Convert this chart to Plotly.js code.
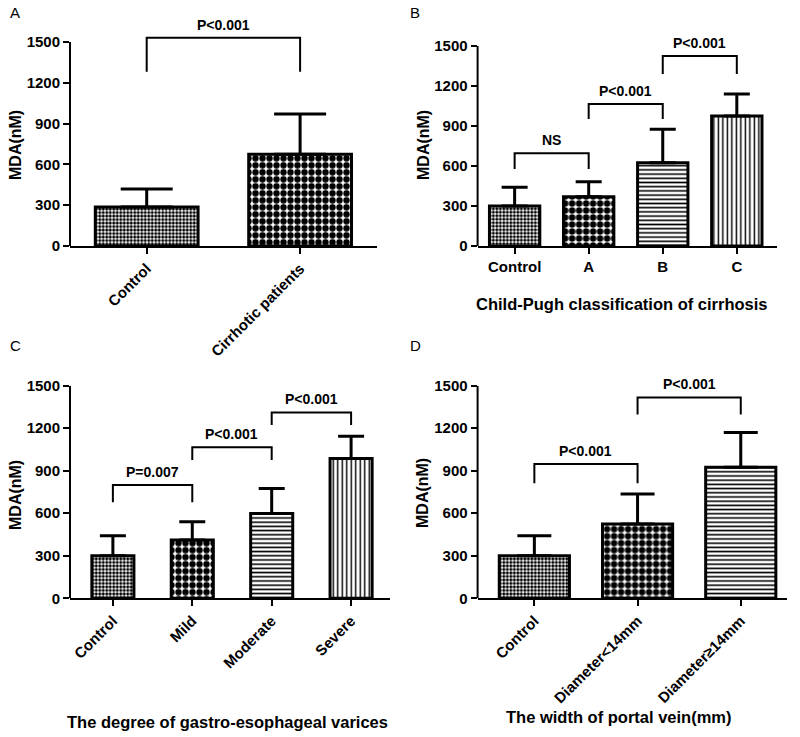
<!DOCTYPE html>
<html>
<head>
<meta charset="utf-8">
<script src="https://cdn.plot.ly/plotly-3.0.1.min.js"></script>
<style>
html,body{margin:0;padding:0;background:#fff;}
#chart{width:800px;height:737px;}
</style>
</head>
<body>
<div id="chart"></div>
<script>
// ---- Data ----
const catsA = ["Control", "Cirrhotic patients"];
const meanA = [287, 674];
const sdA = [132, 296];

const catsB = ["Control", "A", "B", "C"];
const meanB = [300, 370, 625, 975];
const sdB = [140, 112, 250, 165];

const catsC = ["Control", "Mild", "Moderate", "Severe"];
const meanC = [300, 411, 599, 987];
const sdC = [141, 129, 176, 157];

const catsD = ["Control", "Diameter<14mm", "Diameter\u226514mm"];
const meanD = [300, 524, 924];
const sdD = [141, 211, 246];

// brackets: [fromIndex, toIndex, top, legBottom, label]
const bracketsA = [[0, 1, 1532, 1282, "P<0.001"]];
const bracketsB = [[0, 1, 695, 578, "NS"], [1, 2, 1065, 952, "P<0.001"], [2, 3, 1425, 1290, "P<0.001"]];
const bracketsC = [[0, 1, 799, 677, "P=0.007"], [1, 2, 1065, 975, "P<0.001"], [2, 3, 1311, 1222, "P<0.001"]];
const bracketsD = [[0, 1, 947, 811, "P<0.001"], [1, 2, 1417, 1297, "P<0.001"]];

const yTicks = [0, 300, 600, 900, 1200, 1500];
const yAxisMax = 1500;

// ---- Styles ----
const FONT = "Liberation Sans, Arial, Helvetica, sans-serif";
const patShape = {fine: ".", coarse: ".", hline: "-", vline: "|"};
const patSize = {fine: 3.5, coarse: 7, hline: 4.2, vline: 4.5};
const patSolid = {fine: 0.6, coarse: 0.65, hline: 0.38, vline: 0.32};
function pat(kinds) {
  return {
    shape: kinds.map(k => patShape[k]),
    size: kinds.map(k => patSize[k]),
    solidity: kinds.map(k => patSolid[k]),
    fgcolor: "#000", bgcolor: "#fff", fillmode: "replace"
  };
}

const panels = [
  {cats: catsA, mean: meanA, sd: sdA, br: bracketsA, kinds: ["fine", "coarse"], xa: "x", ya: "y", bw: 0.67, ew: 26},
  {cats: catsB, mean: meanB, sd: sdB, br: bracketsB, kinds: ["fine", "coarse", "hline", "vline"], xa: "x2", ya: "y2", bw: 0.68, ew: 13},
  {cats: catsC, mean: meanC, sd: sdC, br: bracketsC, kinds: ["fine", "coarse", "hline", "vline"], xa: "x3", ya: "y3", bw: 0.53, ew: 13},
  {cats: catsD, mean: meanD, sd: sdD, br: bracketsD, kinds: ["fine", "coarse", "hline"], xa: "x4", ya: "y4", bw: 0.68, ew: 17}
];

const traces = [];
const annotations = [];
const shapes = [];
panels.forEach(p => {
  traces.push({
    type: "bar", x: p.cats, y: p.mean, xaxis: p.xa, yaxis: p.ya, width: p.bw,
    marker: {color: "#fff", line: {color: "#000", width: 3}, pattern: pat(p.kinds)},
    error_y: {type: "data", symmetric: false, array: p.sd, arrayminus: p.sd.map(() => 0),
      color: "#000", thickness: 3, width: p.ew},
    showlegend: false, hoverinfo: "skip"
  });
  p.br.forEach(b => {
    const [i, j, top, leg, label] = b;
    traces.push({
      type: "scatter", mode: "lines", xaxis: p.xa, yaxis: p.ya,
      x: [p.cats[i], p.cats[i], p.cats[j], p.cats[j]],
      y: [leg, top, top, leg],
      line: {color: "#000", width: 2}, cliponaxis: false, showlegend: false, hoverinfo: "skip"
    });
    annotations.push({
      xref: p.xa, yref: p.ya, x: (i + j) / 2, y: top, yanchor: "middle", yshift: 13,
      text: label, showarrow: false, font: {family: FONT, size: 14, color: "#000", weight: "bold"}
    });
  });
  // visible y-axis line from 0 to 1500 (axis range may extend above for brackets)
  shapes.push({type: "line", xref: p.xa + " domain", yref: p.ya, x0: 0, x1: 0, y0: 0, y1: yAxisMax,
    line: {color: "#000", width: 2}});
});

function xAxis(domain, anchor, cats, angle, range) {
  return {
    domain: domain, anchor: anchor, type: "category", categoryorder: "array", categoryarray: cats,
    range: range, showline: true, linecolor: "#000", linewidth: 2,
    ticks: "outside", ticklen: 6, tickwidth: 2, tickcolor: "#000", tickangle: angle,
    showgrid: false, zeroline: false, fixedrange: true,
    tickfont: {family: FONT, size: 15, color: "#000", weight: "bold"}
  };
}
function yAxis(domain, anchor, top) {
  return {
    domain: domain, anchor: anchor, range: [0, top], tickvals: yTicks, ticktext: yTicks.map(String),
    showline: false, ticks: "outside", ticklen: 6, tickwidth: 2,
    tickcolor: "#000", showgrid: false, zeroline: false, fixedrange: true,
    tickfont: {family: FONT, size: 15, color: "#000", weight: "bold"}
  };
}

const yTitleFont = {family: FONT, size: 16, color: "#000", weight: "bold"};
const xTitleFont = {family: FONT, size: 16.5, color: "#000", weight: "bold"};
const panelFont = {family: FONT, size: 15, color: "#000"};
function paperAnn(x, y, text, font, extra) {
  return Object.assign({xref: "paper", yref: "paper", x: x, y: y, xanchor: "center", yanchor: "middle",
    text: text, showarrow: false, font: font}, extra || {});
}
// y-axis titles
annotations.push(paperAnn(15 / 800, 1 - 145 / 737, "MDA(nM)", yTitleFont, {textangle: -90}));
annotations.push(paperAnn(423 / 800, 1 - 145 / 737, "MDA(nM)", yTitleFont, {textangle: -90}));
annotations.push(paperAnn(15 / 800, 1 - 495 / 737, "MDA(nM)", yTitleFont, {textangle: -90}));
annotations.push(paperAnn(423 / 800, 1 - 493 / 737, "MDA(nM)", yTitleFont, {textangle: -90}));
// x-axis titles
annotations.push(paperAnn(622 / 800, 1 - 304 / 737, "Child-Pugh classification of cirrhosis", xTitleFont));
annotations.push(paperAnn(228 / 800, 1 - 722 / 737, "The degree of gastro-esophageal varices", xTitleFont));
annotations.push(paperAnn(619 / 800, 1 - 717 / 737, "The width of portal vein(mm)", xTitleFont));
// panel letters
annotations.push(paperAnn(8 / 800, 1 - 12 / 737, "A", panelFont, {xanchor: "left"}));
annotations.push(paperAnn(408 / 800, 1 - 12 / 737, "B", panelFont, {xanchor: "left"}));
annotations.push(paperAnn(8 / 800, 1 - 345 / 737, "C", panelFont, {xanchor: "left"}));
annotations.push(paperAnn(408 / 800, 1 - 345 / 737, "D", panelFont, {xanchor: "left"}));

// panel A needs head-room above 1500 for its bracket
const topA = 1700;
const pxA = 204; // pixel height of 0..1500 in panel A
const domATop = 1 - (246 - pxA * topA / 1500) / 737;

const layout = {
  width: 800, height: 737, margin: {l: 0, r: 0, t: 0, b: 0},
  paper_bgcolor: "#fff", plot_bgcolor: "#fff", showlegend: false, bargap: 0.3,
  font: {family: FONT, color: "#000"},
  xaxis: xAxis([0.0875, 0.471], "y", catsA, -45, [-0.5, 1.5]),
  yaxis: yAxis([1 - 246 / 737, domATop], "x", topA),
  xaxis2: xAxis([0.597, 0.971], "y2", catsB, 0, [-0.5, 3.54]),
  yaxis2: yAxis([0.6662, 0.9376], "x2", 1500),
  xaxis3: xAxis([0.0875, 0.4875], "y3", catsC, -45, [-0.54, 3.49]),
  yaxis3: yAxis([0.1882, 0.4767], "x3", 1500),
  xaxis4: xAxis([0.597, 0.984], "y4", catsD, -45, [-0.55, 2.45]),
  yaxis4: yAxis([0.1882, 0.4767], "x4", 1500),
  annotations: annotations,
  shapes: shapes
};

Plotly.newPlot("chart", traces, layout, {staticPlot: true, displayModeBar: false});
</script>
</body>
</html>
